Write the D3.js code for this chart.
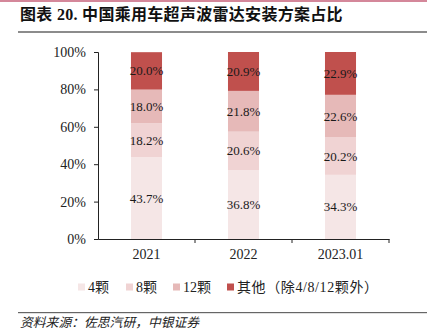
<!DOCTYPE html>
<html><head><meta charset="utf-8">
<script src="https://cdn.jsdelivr.net/npm/d3@7"></script>
<style>body{margin:0;background:#fff;}svg{display:block;}</style>
</head><body><svg id="c" width="427" height="335"></svg>
<script>
const categories = ["2021", "2022", "2023.01"];
const seriesNames = ["4颗", "8颗", "12颗", "其他（除4/8/12颗外）"];
const s4 = [43.7, 36.8, 34.3];
const s8 = [18.2, 20.6, 20.2];
const s12 = [18.0, 21.8, 22.6];
const sOther = [20.0, 20.9, 22.9];
const yTicks = [0, 20, 40, 60, 80, 100];
const colors = ["#f5e6e6", "#f0d3d3", "#e6b9b8", "#c0504d"];

const svg = d3.select("#c");
const serif = "'Liberation Serif','Times New Roman',serif";
const cjk = "'Liberation Serif','Noto Sans CJK SC',serif";

// top accent & title
svg.append("rect").attr("x",0).attr("y",0).attr("width",427).attr("height",2).attr("fill","#d4879a");
svg.append("text").attr("x",20).attr("y",20).attr("font-family","'Liberation Serif','Noto Sans CJK SC',serif")
  .attr("font-weight","bold").attr("font-size",16).attr("fill","#111").attr("letter-spacing",0.3)
  .text("图表 20. 中国乘用车超声波雷达安装方案占比");
svg.append("rect").attr("x",18).attr("y",31).attr("width",409).attr("height",2).attr("fill","#8c8c8c");

const x = d3.scaleBand().domain(categories).range([98, 389]).paddingInner(0.68).paddingOuter(0.34);
const y = d3.scaleLinear().domain([0, 100]).range([239, 52]);

const table = categories.map((c,i)=>({cat:c, s0:s4[i], s1:s8[i], s2:s12[i], s3:sOther[i]}));
const keys = ["s0","s1","s2","s3"];
const stacked = d3.stack().keys(keys)(table);

const g = svg.append("g");
stacked.forEach((layer, li) => {
  g.selectAll(null).data(layer).enter().append("rect")
    .attr("x", d => x(d.data.cat))
    .attr("width", x.bandwidth())
    .attr("y", d => y(Math.min(d[1],100)))
    .attr("height", d => y(d[0]) - y(Math.min(d[1],100)))
    .attr("fill", colors[li]);
  g.selectAll(null).data(layer).enter().append("text")
    .attr("x", d => x(d.data.cat) + x.bandwidth()/2)
    .attr("y", d => y((d[0]+d[1])/2))
    .attr("dy","0.35em")
    .attr("text-anchor","middle")
    .attr("font-family", serif).attr("font-size", 13).attr("fill","#1a1a1a")
    .text(d => (d[1]-d[0]).toFixed(1) + "%");
});

// y axis
const yAxis = svg.append("g").attr("transform","translate(98,0)")
  .call(d3.axisLeft(y).tickValues(yTicks).tickFormat(d => d + "%").tickSizeOuter(0).tickSize(4));
yAxis.select(".domain").attr("stroke","#222");
yAxis.selectAll(".tick line").attr("stroke","#222");
yAxis.selectAll("text").attr("font-family", serif).attr("font-size", 14).attr("fill","#222").attr("x",-12);

// x axis
const xAxis = svg.append("g").attr("transform","translate(0,239)")
  .call(d3.axisBottom(x).tickSize(0).tickSizeOuter(0));
xAxis.select(".domain").attr("stroke","#222");
xAxis.selectAll("text").attr("font-family", serif).attr("font-size", 14).attr("fill","#222").attr("y",10).attr("dy","0.71em");
const step = x.step();
const bounds = [98 + step, 98 + 2*step, 389];
svg.append("g").selectAll("line").data(bounds).enter().append("line")
  .attr("x1",d=>d).attr("x2",d=>d).attr("y1",239).attr("y2",243).attr("stroke","#222");

// legend
const legX = [78, 126, 173, 227];
const lg = svg.append("g");
seriesNames.forEach((n,i)=>{
  lg.append("rect").attr("x",legX[i]).attr("y",283.5).attr("width",7).attr("height",7).attr("fill",colors[i]);
  lg.append("text").attr("x",legX[i]+10).attr("y",287).attr("dy","0.35em")
    .attr("font-family", cjk).attr("font-size",14).attr("letter-spacing",i===3?0.6:0).attr("fill","#222").text(n);
});

// bottom rule & source
svg.append("rect").attr("x",18).attr("y",312).attr("width",409).attr("height",1.2).attr("fill","#666");
svg.append("text").attr("x",20).attr("y",327).attr("font-family","'Noto Sans CJK SC',sans-serif")
  .attr("font-style","italic").attr("font-size",12.8).attr("fill","#222")
  .text("资料来源：佐思汽研，中银证券");
</script></body></html>
